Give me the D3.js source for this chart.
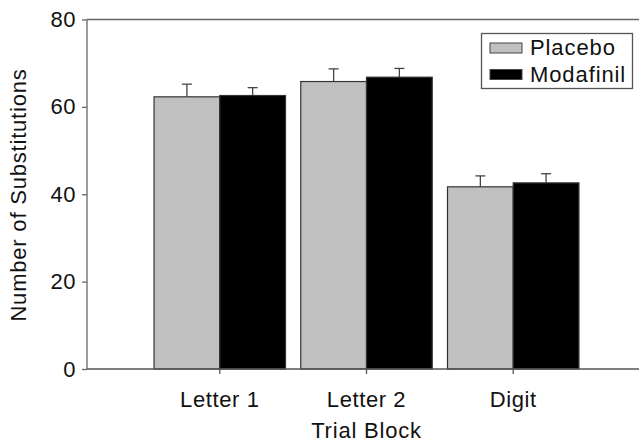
<!DOCTYPE html>
<html><head><meta charset="utf-8">
<script src="https://cdn.jsdelivr.net/npm/d3@7"></script>
<style>body{margin:0;background:#fff}text{font-family:"Liberation Sans",Arial,sans-serif;fill:#111}</style>
</head><body><svg id="c" width="639" height="443"></svg>
<script>
const categories = ["Letter 1", "Letter 2", "Digit"];
const seriesNames = ["Placebo", "Modafinil"];
const placebo = [62.3, 65.8, 41.7];
const modafinil = [62.6, 66.8, 42.6];
const placeboErr = [2.9, 2.9, 2.5];
const modafinilErr = [1.8, 2.0, 2.1];
const yTicks = [0, 20, 40, 60, 80];

const colors = ["#c0c0c0", "#000000"];
const svg = d3.select("#c");
const L = 87, R = 646, T = 19.5, B = 369;

const x = d3.scaleBand().domain(categories).range([L, R]).paddingInner(0.104).paddingOuter(0.457);
const xs = d3.scaleBand().domain(seriesNames).range([0, x.bandwidth()]);
const y = d3.scaleLinear().domain([0, 80]).range([B, T]);

svg.append("line").attr("x1", L).attr("x2", 639).attr("y1", T).attr("y2", T).attr("stroke", "#666").attr("stroke-width", 1.3);

const data = categories.map((c, i) => ({c, vals: [
  {s: seriesNames[0], v: placebo[i], e: placeboErr[i]},
  {s: seriesNames[1], v: modafinil[i], e: modafinilErr[i]}]}));

const g = svg.append("g").selectAll("g").data(data).join("g").attr("transform", d => `translate(${x(d.c)},0)`);
g.selectAll("line.err").data(d => d.vals).join("line").attr("class", "err")
  .attr("x1", d => xs(d.s) + xs.bandwidth() / 2).attr("x2", d => xs(d.s) + xs.bandwidth() / 2)
  .attr("y1", d => y(d.v)).attr("y2", d => y(d.v + d.e)).attr("stroke", "#444").attr("stroke-width", 1.3);
g.selectAll("line.cap").data(d => d.vals).join("line").attr("class", "cap")
  .attr("x1", d => xs(d.s) + xs.bandwidth() / 2 - 5).attr("x2", d => xs(d.s) + xs.bandwidth() / 2 + 5)
  .attr("y1", d => y(d.v + d.e)).attr("y2", d => y(d.v + d.e)).attr("stroke", "#444").attr("stroke-width", 1.3);
g.selectAll("rect").data(d => d.vals).join("rect")
  .attr("x", d => xs(d.s)).attr("width", xs.bandwidth())
  .attr("y", d => y(d.v)).attr("height", d => y(0) - y(d.v))
  .attr("fill", (d, i) => colors[i]).attr("stroke", "#333").attr("stroke-width", 1.2);

const font = "Liberation Sans, Arial, sans-serif";
const ya = svg.append("g").attr("transform", `translate(${L},0)`)
  .call(d3.axisLeft(y).tickValues(yTicks).tickSize(5).tickPadding(6));
ya.select(".domain").attr("stroke", "#666").attr("stroke-width", 1.3).attr("d", `M0,${B}V${T}`);
ya.selectAll(".tick line").attr("stroke", "#666").attr("stroke-width", 1.3);
ya.selectAll(".tick text").attr("font-size", 22).attr("letter-spacing", 0.5).attr("fill", "#111").attr("font-family", font);

const xa = svg.append("g").attr("transform", `translate(0,${B})`)
  .call(d3.axisBottom(x).tickSize(5).tickPadding(17));
xa.select(".domain").attr("stroke", "#555").attr("stroke-width", 1.3).attr("d", `M${L},0H639`);
xa.selectAll(".tick line").attr("stroke", "#555").attr("stroke-width", 1.3);
xa.selectAll(".tick text").attr("font-size", 22).attr("letter-spacing", 0.6).attr("fill", "#111").attr("font-family", font);

svg.append("text").attr("x", x("Letter 2") + x.bandwidth() / 2).attr("y", 438).attr("text-anchor", "middle")
  .attr("font-size", 22).attr("letter-spacing", 0.8).text("Trial Block");
svg.append("text").attr("transform", `translate(26,195) rotate(-90)`).attr("text-anchor", "middle")
  .attr("font-size", 22).attr("letter-spacing", 0.8).text("Number of Substitutions");

const lg = svg.append("g");
lg.append("rect").attr("x", 481.5).attr("y", 33.5).attr("width", 151).attr("height", 55).attr("fill", "#fff").attr("stroke", "#555").attr("stroke-width", 1.3);
seriesNames.forEach((s, i) => {
  lg.append("rect").attr("x", 490).attr("y", 43 + i * 26.5).attr("width", 32).attr("height", 10).attr("fill", colors[i]).attr("stroke", "#444").attr("stroke-width", 1);
  lg.append("text").attr("x", 530).attr("y", 55 + i * 26.8).attr("font-size", 22).attr("letter-spacing", 0.9).text(s);
});
</script></body></html>
